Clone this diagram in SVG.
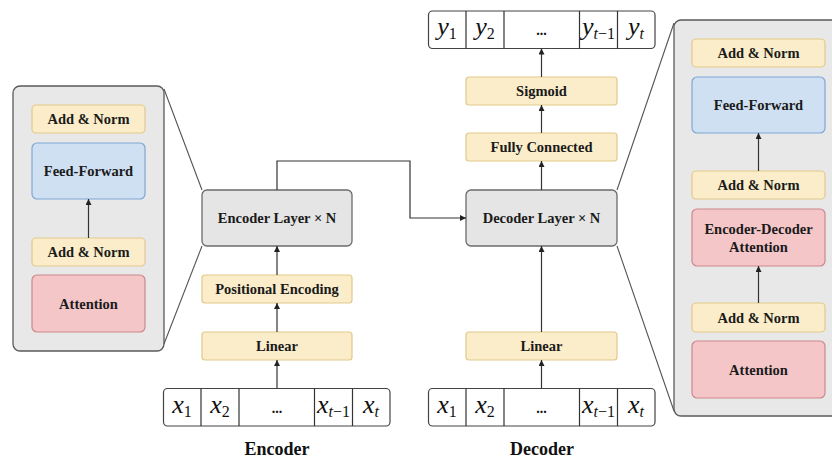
<svg xmlns="http://www.w3.org/2000/svg" width="832" height="461" viewBox="0 0 832 461">
<defs>
<marker id="ah" viewBox="0 0 8 8" refX="8" refY="4" markerWidth="6" markerHeight="6" orient="auto" markerUnits="userSpaceOnUse">
<path d="M0,0 L8,4 L0,8 z" fill="#222"/>
</marker>
<style>
.panel{fill:#e8e8e8;stroke:#5a5a5a;stroke-width:1.3}
.y{fill:#fbedc9;stroke:#e2c98c;stroke-width:1.2}
.b{fill:#cfe0f3;stroke:#7fa6d6;stroke-width:1.2}
.p{fill:#f4c6c8;stroke:#cc878c;stroke-width:1.2}
.g{fill:#e5e5e5;stroke:#6b6b6b;stroke-width:1.3}
.cell{fill:#ffffff;stroke:#444;stroke-width:1.2}
.t{font-family:"Liberation Serif","Times New Roman",serif;font-weight:bold;font-size:14.5px;fill:#1a1a1a;text-anchor:middle;dominant-baseline:central}
.cap{font-family:"Liberation Serif","Times New Roman",serif;font-weight:bold;font-size:18px;fill:#111;text-anchor:middle}
.m{font-family:"Liberation Serif","Times New Roman",serif;font-style:italic;font-size:26px;fill:#111;text-anchor:middle}
.sub{font-size:16px}
.up{font-style:normal}
.dots{font-family:"Liberation Serif",serif;font-weight:bold;font-size:14px;fill:#111;text-anchor:middle}
.ln{fill:none;stroke:#333;stroke-width:1.2}
.lz{fill:none;stroke:#555;stroke-width:1.1}
</style>
</defs>

<g id="encoder-detail">
<rect class="panel" x="13" y="86" width="151" height="265" rx="7"/>
<g id="enc-addnorm-top"><rect class="y" x="32" y="105" width="113" height="28" rx="4"/><text class="t" x="88.5" y="119">Add &amp; Norm</text></g>
<g id="enc-ff"><rect class="b" x="32" y="143" width="113" height="56" rx="5"/><text class="t" x="88.5" y="171">Feed-Forward</text></g>
<g id="enc-addnorm"><rect class="y" x="32" y="238" width="113" height="28" rx="4"/><text class="t" x="88.5" y="252">Add &amp; Norm</text></g>
<g id="enc-attn"><rect class="p" x="32" y="275" width="113" height="57" rx="5"/><text class="t" x="88.5" y="303.5">Attention</text></g>
</g>

<g id="decoder-detail">
<rect class="panel" x="674" y="20" width="170" height="396" rx="7"/>
<g id="dec-addnorm-top"><rect class="y" x="692" y="39" width="133" height="28" rx="4"/><text class="t" x="758.5" y="53">Add &amp; Norm</text></g>
<g id="dec-ff"><rect class="b" x="692" y="77" width="133" height="56" rx="5"/><text class="t" x="758.5" y="105">Feed-Forward</text></g>
<g id="dec-addnorm-mid"><rect class="y" x="692" y="171" width="133" height="28" rx="4"/><text class="t" x="758.5" y="185">Add &amp; Norm</text></g>
<g id="dec-encdec"><rect class="p" x="692" y="209" width="133" height="57" rx="5"/><text class="t" x="758.5" y="228.5">Encoder-Decoder</text><text class="t" x="758.5" y="246.5">Attention</text></g>
<g id="dec-addnorm"><rect class="y" x="692" y="303" width="133" height="29" rx="4"/><text class="t" x="758.5" y="317.5">Add &amp; Norm</text></g>
<g id="dec-attn"><rect class="p" x="692" y="341" width="133" height="57" rx="5"/><text class="t" x="758.5" y="369.5">Attention</text></g>
</g>

<g id="encoder-layer"><rect class="g" x="202" y="190" width="150" height="56" rx="5"/><text class="t" x="277" y="218">Encoder Layer × N</text></g>
<g id="positional-encoding"><rect class="y" x="202" y="275" width="150" height="28" rx="3"/><text class="t" x="277" y="289">Positional Encoding</text></g>
<g id="enc-linear"><rect class="y" x="202" y="332" width="150" height="28" rx="3"/><text class="t" x="277" y="346">Linear</text></g>

<g id="decoder-layer"><rect class="g" x="466" y="190" width="151" height="56" rx="5"/><text class="t" x="541.5" y="218">Decoder Layer × N</text></g>
<g id="fully-connected"><rect class="y" x="466" y="133" width="151" height="28" rx="3"/><text class="t" x="541.5" y="147">Fully Connected</text></g>
<g id="sigmoid"><rect class="y" x="466" y="77" width="151" height="28" rx="3"/><text class="t" x="541.5" y="91">Sigmoid</text></g>
<g id="dec-linear"><rect class="y" x="466" y="332" width="151" height="28" rx="3"/><text class="t" x="541.5" y="346">Linear</text></g>

<g id="enc-input">
<rect class="cell" x="163.5" y="388.5" width="226.5" height="37.5" rx="4"/>
<path class="ln" d="M201,388.5V426M239,388.5V426M314.5,388.5V426M352.5,388.5V426"/>
<text class="m" x="182" y="413">x<tspan class="sub up" dy="4">1</tspan></text>
<text class="m" x="220" y="413">x<tspan class="sub up" dy="4">2</tspan></text>
<text class="dots" x="277" y="413">...</text>
<text class="m" x="333.5" y="413">x<tspan class="sub" dy="4">t</tspan><tspan class="sub up">−1</tspan></text>
<text class="m" x="371" y="413">x<tspan class="sub" dy="4">t</tspan></text>
</g>

<g id="dec-input">
<rect class="cell" x="428.5" y="388.5" width="226.5" height="37.5" rx="4"/>
<path class="ln" d="M466,388.5V426M504,388.5V426M579.5,388.5V426M617.5,388.5V426"/>
<text class="m" x="447" y="413">x<tspan class="sub up" dy="4">1</tspan></text>
<text class="m" x="485" y="413">x<tspan class="sub up" dy="4">2</tspan></text>
<text class="dots" x="541.5" y="413">...</text>
<text class="m" x="598.5" y="413">x<tspan class="sub" dy="4">t</tspan><tspan class="sub up">−1</tspan></text>
<text class="m" x="636" y="413">x<tspan class="sub" dy="4">t</tspan></text>
</g>

<g id="dec-output">
<rect class="cell" x="428.5" y="11" width="226.5" height="37.5" rx="4"/>
<path class="ln" d="M466,11V48.5M504,11V48.5M579.5,11V48.5M617.5,11V48.5"/>
<text class="m" x="447" y="35">y<tspan class="sub up" dy="4">1</tspan></text>
<text class="m" x="485" y="35">y<tspan class="sub up" dy="4">2</tspan></text>
<text class="dots" x="541.5" y="35">...</text>
<text class="m" x="598.5" y="35">y<tspan class="sub" dy="4">t</tspan><tspan class="sub up">−1</tspan></text>
<text class="m" x="636" y="35">y<tspan class="sub" dy="4">t</tspan></text>
</g>

<g id="captions">
<text class="cap" x="277" y="455">Encoder</text>
<text class="cap" x="542" y="455">Decoder</text>
</g>

<g id="connectors">
<path class="lz" d="M164,89L202,190M164,344L202,246"/>
<path class="lz" d="M617,190L674,23M617,246L674,411"/>
<path class="ln" d="M88.5,238V199" marker-end="url(#ah)"/>
<path class="ln" d="M758.5,171V133" marker-end="url(#ah)"/>
<path class="ln" d="M758.5,303V266" marker-end="url(#ah)"/>
<path class="ln" d="M277,388.5V360" marker-end="url(#ah)"/>
<path class="ln" d="M277,332V303" marker-end="url(#ah)"/>
<path class="ln" d="M277,275V246" marker-end="url(#ah)"/>
<path class="ln" d="M277,190V161H410V218H466" marker-end="url(#ah)"/>
<path class="ln" d="M541.5,388.5V360" marker-end="url(#ah)"/>
<path class="ln" d="M541.5,332V246" marker-end="url(#ah)"/>
<path class="ln" d="M541.5,190V161" marker-end="url(#ah)"/>
<path class="ln" d="M541.5,133V105" marker-end="url(#ah)"/>
<path class="ln" d="M541.5,77V48.5" marker-end="url(#ah)"/>
</g>
</svg>
